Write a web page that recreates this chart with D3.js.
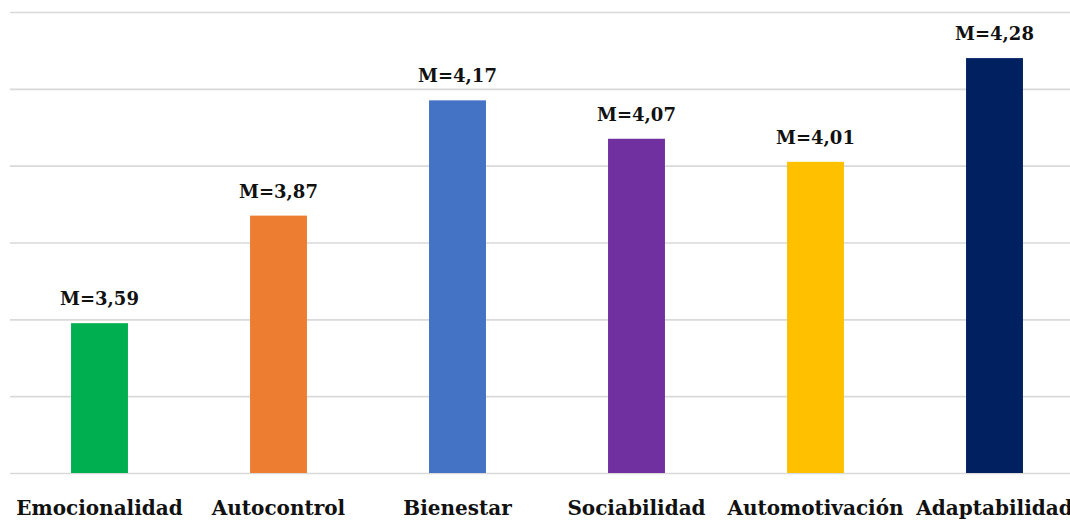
<!DOCTYPE html>
<html>
<head>
<meta charset="utf-8">
<script src="https://cdn.jsdelivr.net/npm/d3@7"></script>
<style>
  html, body { margin: 0; padding: 0; background: #fff; overflow: hidden; }
  svg { display: block; }
  .lbl { font-family: "DejaVu Serif", serif; font-weight: bold; fill: #111; }
</style>
</head>
<body>
<svg id="chart" width="1070" height="520"></svg>
<script>
// Mean score per dimension
const categories = ["Emocionalidad", "Autocontrol", "Bienestar", "Sociabilidad", "Automotivación", "Adaptabilidad"];
const means = [3.59, 3.87, 4.17, 4.07, 4.01, 4.28];
const barColors = ["#00B050", "#ED7D31", "#4472C4", "#7030A0", "#FFC000", "#002060"];
const gridTicks = [3.2, 3.4, 3.6, 3.8, 4.0, 4.2, 4.4];

const svg = d3.select("#chart");

const x = d3.scaleBand().domain(categories).range([10, 1084]).padding(0);
const y = d3.scaleLinear().domain([3.2, 4.4]).range([473, 12]);

// Horizontal gridlines
svg.append("g")
  .attr("transform", "translate(10,0)")
  .call(d3.axisLeft(y).tickValues(gridTicks).tickSize(-1080).tickFormat(""))
  .call(g => g.select(".domain").remove())
  .call(g => g.selectAll(".tick line").attr("stroke", "#d9d9d9").attr("stroke-width", 1.6));

const barW = x.bandwidth() * 0.318;
const data = categories.map((c, i) => ({ c, v: means[i], color: barColors[i] }));

svg.append("g").selectAll("rect")
  .data(data)
  .join("rect")
  .attr("x", d => x(d.c) + (x.bandwidth() - barW) / 2)
  .attr("y", d => y(d.v))
  .attr("width", barW)
  .attr("height", d => y(3.2) - y(d.v))
  .attr("fill", d => d.color);

// Value labels above bars
svg.append("g").selectAll("text")
  .data(data)
  .join("text")
  .attr("class", "lbl")
  .attr("x", d => x(d.c) + x.bandwidth() / 2)
  .attr("y", d => y(d.v) - 18)
  .attr("text-anchor", "middle")
  .style("font-size", "18px")
  .text(d => "M=" + d.v.toFixed(2).replace(".", ","));

// Category labels
svg.append("g").selectAll("text")
  .data(categories)
  .join("text")
  .attr("class", "lbl")
  .attr("x", d => x(d) + x.bandwidth() / 2)
  .attr("y", 515)
  .attr("text-anchor", "middle")
  .style("font-size", "20px")
  .text(d => d);
</script>
</body>
</html>
